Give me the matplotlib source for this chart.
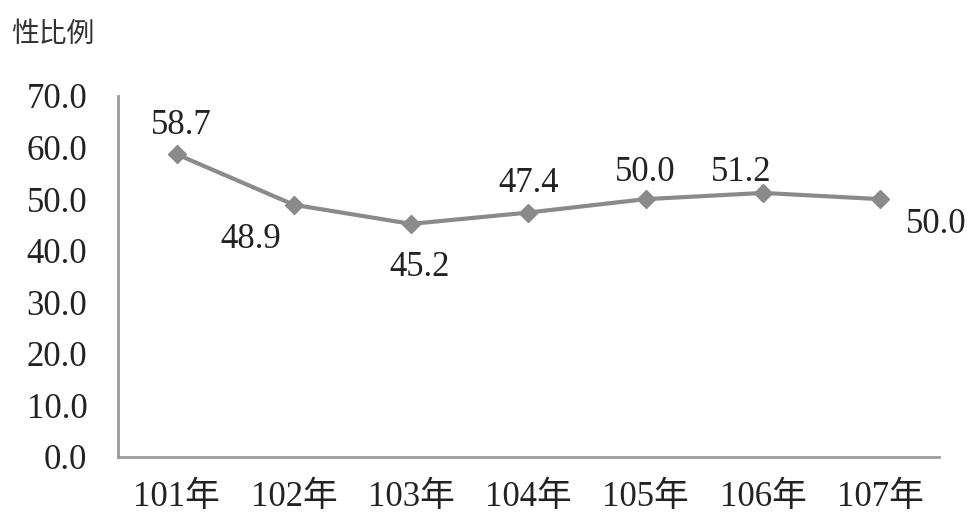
import matplotlib
matplotlib.use('Agg')
import matplotlib.pyplot as plt

plt.rcParams['font.family'] = ['Liberation Serif', 'Noto Sans CJK TC', 'DejaVu Sans']

# data
years = ["101年", "102年", "103年", "104年", "105年", "106年", "107年"]
sex_ratio = [58.7, 48.9, 45.2, 47.4, 50.0, 51.2, 50.0]
y_ticks = [0, 10, 20, 30, 40, 50, 60, 70]

# label offsets (pixels) relative to each point
label_dx = [5, -43, 8, 0, 0, -22, 56]
label_dy = [29, -35, -44, 29, 27, 20, -25]

fig = plt.figure(figsize=(9.7, 5.18), dpi=100)
ax = fig.add_axes([0.1216, 0.1178, 0.8464, 0.6969])

x = list(range(len(years)))
ax.plot(x, sex_ratio, color="#8a8a8a", linewidth=3, marker="D",
        markersize=9, markerfacecolor="#8a8a8a", markeredgecolor="#8a8a8a")

for xi, val, dx, dy in zip(x, sex_ratio, label_dx, label_dy):
    ax.annotate(f"{val:.1f}", (xi, val), xytext=(dx, dy), textcoords="offset pixels",
                ha="center", va="center", fontsize=25, color="#222222")

ax.set_xlim(-0.5, len(years) - 0.5)
ax.set_ylim(0, 70)
ax.set_yticks(y_ticks)
ax.set_yticklabels([f"{v:.1f}" for v in y_ticks])
ax.set_xticks(x)
ax.set_xticklabels(years)
ax.tick_params(axis="y", length=0, pad=22, labelsize=25, labelcolor="#222222")
ax.tick_params(axis="x", length=0, pad=17, labelsize=25, labelcolor="#222222")

for side in ["top", "right"]:
    ax.spines[side].set_visible(False)
for side in ["left", "bottom"]:
    ax.spines[side].set_color("#9a9a9a")
    ax.spines[side].set_linewidth(2)

fig.text(0.012, 0.935, "性比例", fontsize=20, color="#333333", ha="left", va="center",
         family=["Noto Sans CJK TC"])

fig.savefig("out.png", dpi=100)
